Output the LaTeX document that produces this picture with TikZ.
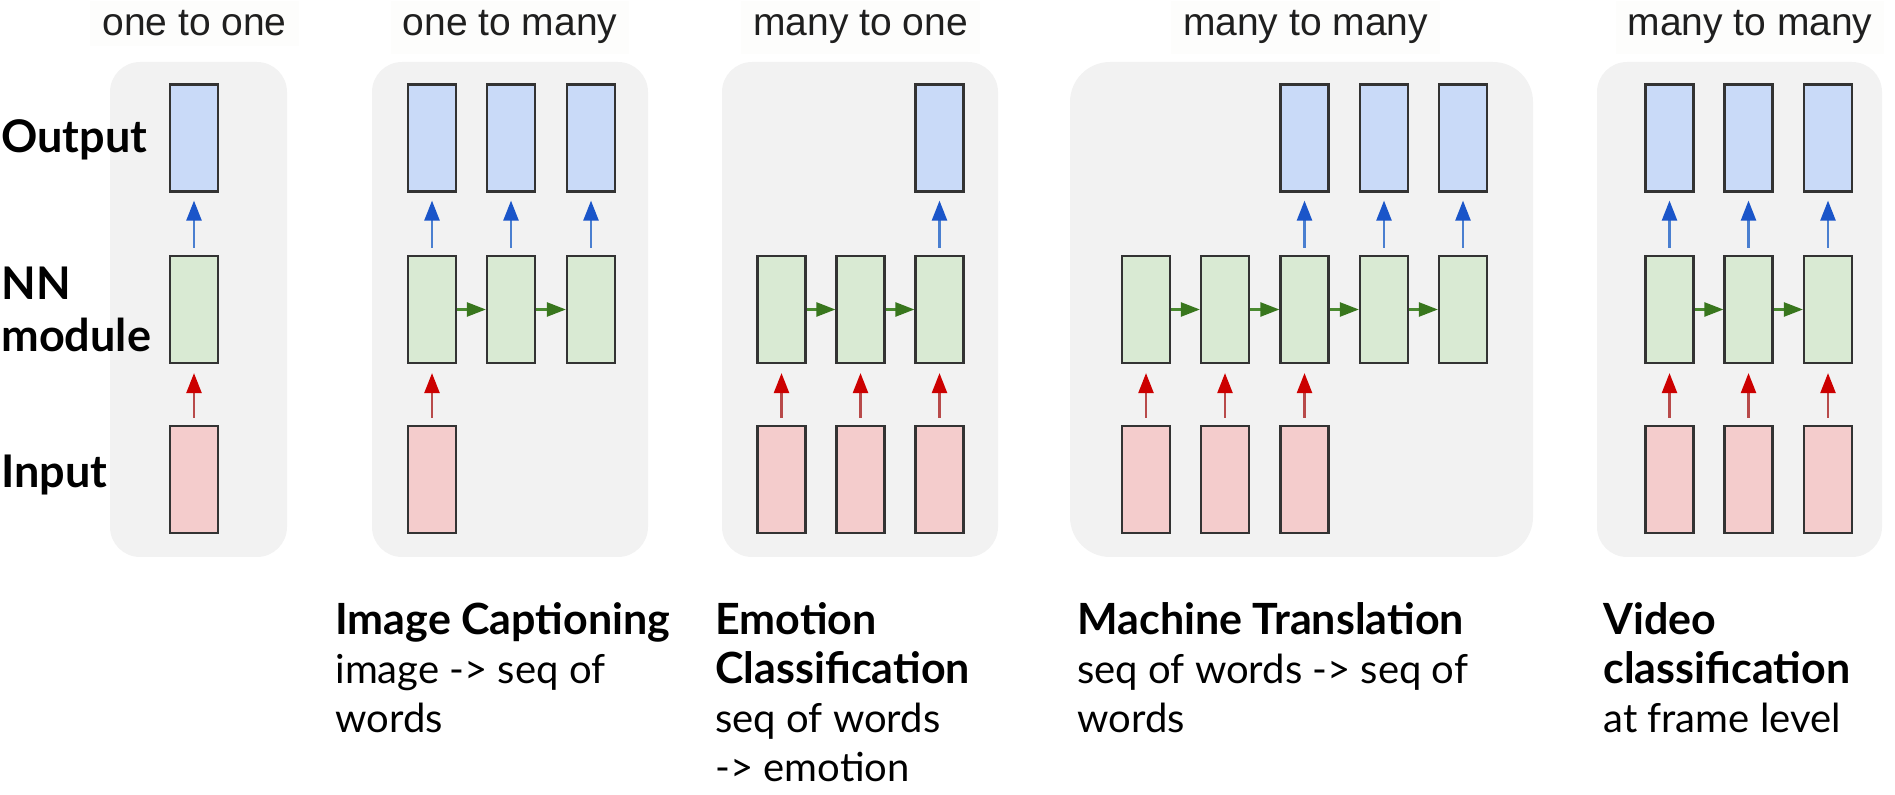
\documentclass[tikz,border=0pt]{standalone}
\usepackage{fontspec}
\usetikzlibrary{arrows.meta}
\newfontfamily\gillfont{Lato}
\newfontfamily\arialfont{Liberation Sans}
\definecolor{outfill}{HTML}{C9DAF8}
\definecolor{nnfill}{HTML}{D9EAD3}
\definecolor{infill}{HTML}{F4CCCC}
\definecolor{boxline}{HTML}{333333}
\definecolor{panelfill}{HTML}{F2F2F2}
\definecolor{titlebg}{HTML}{FDFDFC}
\definecolor{blueline}{HTML}{4A7FD0}
\definecolor{bluehead}{HTML}{1A55C9}
\definecolor{redline}{HTML}{B84A4A}
\definecolor{redhead}{HTML}{CC0000}
\definecolor{greenline}{HTML}{4A8A30}
\definecolor{greenhead}{HTML}{38761D}
\begin{document}
\begin{tikzpicture}[x=0.5pt,y=-0.5pt,
  cell/.style={draw=boxline, line width=1.1pt, minimum width=24pt, minimum height=53.5pt, inner sep=0pt},
  outcell/.style={cell, fill=outfill},
  nncell/.style={cell, fill=nnfill},
  incell/.style={cell, fill=infill},
  panel/.style={fill=panelfill, rounded corners=15pt, inner sep=0pt, minimum height=247.5pt},
  title/.style={font=\arialfont\fontsize{19.5}{23}\selectfont, anchor=base, fill=titlebg, inner xsep=6pt, inner ysep=5pt, text=black!88},
  rowlabel/.style={font=\gillfont\bfseries\fontsize{22.5}{27}\selectfont, anchor=base west, inner sep=0pt},
  boldline/.style={font=\gillfont\bfseries\fontsize{21.5}{26}\selectfont, anchor=base west, inner sep=0pt},
  plainline/.style={font=\gillfont\fontsize{20}{26}\selectfont, anchor=base west, inner sep=0pt},
  bluearr/.style={draw=blueline, line width=1.2pt, -{Triangle[length=10pt,width=7.5pt,color=bluehead]}, shorten <=3.5pt, shorten >=4pt},
  redarr/.style={draw=redline, line width=1.2pt, -{Triangle[length=10pt,width=7.5pt,color=redhead]}, shorten <=3.5pt, shorten >=4.5pt},
  greenarr/.style={draw=greenline, line width=1.2pt, -{Triangle[length=9.5pt,width=7pt,color=greenhead]}}
]
\useasboundingbox (0,0) rectangle (1895,795);

% panels
\node[panel, minimum width=88.5pt] (p1) at (198.5,309.5) {};
\node[panel, minimum width=138pt] (p2) at (510,309.5) {};
\node[panel, minimum width=138pt] (p3) at (860,309.5) {};
\node[panel, minimum width=231.5pt, rounded corners=20pt] (p4) at (1301.5,309.5) {};
\node[panel, minimum width=142.5pt] (p5) at (1739.5,309.5) {};

% titles
\node[title] (t1) at (194.5,36) {one to one};
\node[title] (t2) at (510,36) {one to many};
\node[title] (t3) at (860.5,36) {many to one};
\node[title] (t4) at (1305.5,36) {many to many};
\node[title] (t5) at (1750,36) {many to many};

% row labels
\node[rowlabel] (lo) at (1,153) {Output};
\node[rowlabel] (lnn) at (1,300) {NN};
\node[rowlabel] (lmod) at (1,352) {module};
\node[rowlabel] (lin) at (1,488) {Input};

% panel 1: one to one
\node[outcell] (a-o1) at (194,138) {};
\node[nncell] (a-n1) at (194,309.5) {};
\node[incell] (a-i1) at (194,479.5) {};
\draw[bluearr] (a-n1) -- (a-o1);
\draw[redarr] (a-i1) -- (a-n1);

% panel 2: one to many
\foreach \x [count=\k] in {432,511,591} {
  \node[outcell] (b-o\k) at (\x,138) {};
  \node[nncell] (b-n\k) at (\x,309.5) {};
  \draw[bluearr] (b-n\k) -- (b-o\k);
}
\node[incell] (b-i1) at (432,479.5) {};
\draw[redarr] (b-i1) -- (b-n1);
\draw[greenarr] (b-n1) -- (b-n2);
\draw[greenarr] (b-n2) -- (b-n3);

% panel 3: many to one
\foreach \x [count=\k] in {781.5,860.5,939.5} {
  \node[nncell] (c-n\k) at (\x,309.5) {};
  \node[incell] (c-i\k) at (\x,479.5) {};
  \draw[redarr] (c-i\k) -- (c-n\k);
}
\node[outcell] (c-o3) at (939.5,138) {};
\draw[bluearr] (c-n3) -- (c-o3);
\draw[greenarr] (c-n1) -- (c-n2);
\draw[greenarr] (c-n2) -- (c-n3);

% panel 4: many to many (delayed)
\foreach \x [count=\k] in {1146,1225,1304.5,1384,1463} {
  \node[nncell] (d-n\k) at (\x,309.5) {};
}
\foreach \k in {1,2,3} {
  \node[incell] (d-i\k) at (d-n\k |- 0,479.5) {};
  \draw[redarr] (d-i\k) -- (d-n\k);
}
\foreach \k in {3,4,5} {
  \node[outcell] (d-o\k) at (d-n\k |- 0,138) {};
  \draw[bluearr] (d-n\k) -- (d-o\k);
}
\draw[greenarr] (d-n1) -- (d-n2);
\draw[greenarr] (d-n2) -- (d-n3);
\draw[greenarr] (d-n3) -- (d-n4);
\draw[greenarr] (d-n4) -- (d-n5);

% panel 5: many to many (synced)
\foreach \x [count=\k] in {1669.5,1748.5,1828} {
  \node[outcell] (e-o\k) at (\x,138) {};
  \node[nncell] (e-n\k) at (\x,309.5) {};
  \node[incell] (e-i\k) at (\x,479.5) {};
  \draw[bluearr] (e-n\k) -- (e-o\k);
  \draw[redarr] (e-i\k) -- (e-n\k);
}
\draw[greenarr] (e-n1) -- (e-n2);
\draw[greenarr] (e-n2) -- (e-n3);

% descriptions
\node[boldline] (ic1) at (335,635) {Image Captioning};
\node[plainline] (ic2) at (335,684) {image -> seq of};
\node[plainline] (ic3) at (335,733) {words};

\node[boldline] (ec1) at (715,635) {Emotion};
\node[boldline] (ec2) at (715,684) {Classification};
\node[plainline] (ec3) at (715,733) {seq of words};
\node[plainline] (ec4) at (715,782) {-> emotion};

\node[boldline] (mt1) at (1077,635) {Machine Translation};
\node[plainline] (mt2) at (1077,684) {seq of words -> seq of};
\node[plainline] (mt3) at (1077,733) {words};

\node[boldline] (vc1) at (1603,635) {Video};
\node[boldline] (vc2) at (1603,684) {classification};
\node[plainline] (vc3) at (1603,733) {at frame level};
\end{tikzpicture}
\end{document}
